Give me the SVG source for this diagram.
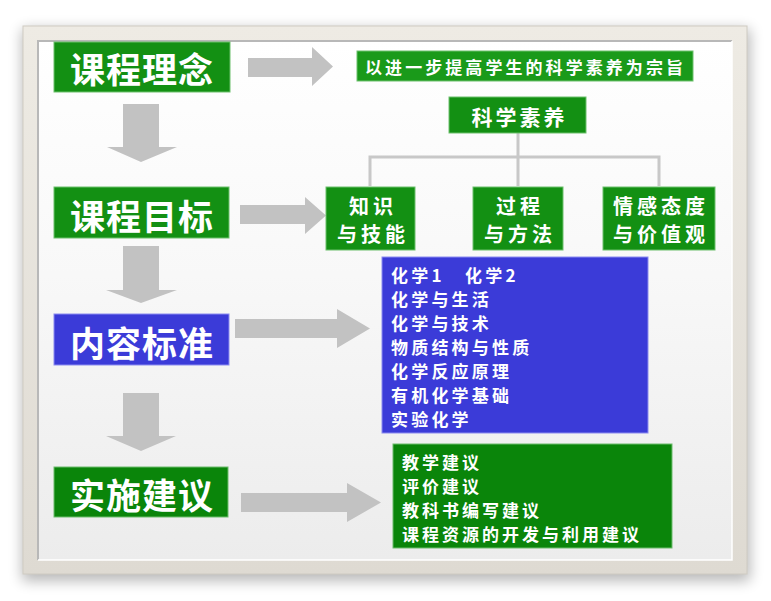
<svg xmlns="http://www.w3.org/2000/svg" width="771" height="601" viewBox="0 0 771 601">
  <defs>
    <style>
      .t { font-family: "Noto Sans CJK SC", "Noto Sans", sans-serif; fill: #ffffff; font-weight: bold; }
      .big { font-size: 35px; letter-spacing: 1px; text-anchor: middle; dominant-baseline: central; }
      .mid { font-size: 20px; letter-spacing: 4px; text-anchor: middle; dominant-baseline: central; }
      .list { font-size: 17px; letter-spacing: 3.2px; dominant-baseline: central; }
      .green { fill: #139013; stroke: #6cc06c; stroke-width: 1; }
      .dgreen { fill: #0a850a; stroke: #6cbc6c; stroke-width: 1; }
      .blue { fill: #3b3bd8; stroke: #8c8cf0; stroke-width: 1; }
      .arrow { fill: #c2c2c2; }
      .tree { fill: none; stroke: #c8c8c8; stroke-width: 3; }
    </style>
    <linearGradient id="panel" x1="0" y1="0" x2="0" y2="1">
      <stop offset="0" stop-color="#ffffff"/>
      <stop offset="0.45" stop-color="#f8f8f8"/>
      <stop offset="1" stop-color="#ececec"/>
    </linearGradient>
    <linearGradient id="frameg" x1="0" y1="0" x2="0" y2="1">
      <stop offset="0" stop-color="#eeebe4"/>
      <stop offset="1" stop-color="#dedad2"/>
    </linearGradient>
    <filter id="sh" x="-10%" y="-10%" width="120%" height="120%">
      <feGaussianBlur stdDeviation="7"/>
    </filter>
  </defs>

  <rect x="0" y="0" width="771" height="601" fill="#ffffff"/>

  <!-- frame -->
  <g id="frame">
    <rect x="22" y="29" width="728" height="552" fill="#000" opacity="0.28" filter="url(#sh)"/>
    <rect x="23" y="26" width="724" height="548" fill="url(#frameg)" stroke="#cfcbc2" stroke-width="1"/>
    <rect x="38" y="41" width="694" height="519" fill="url(#panel)"/>
    <path d="M38 560 L38 41 L732 41" fill="none" stroke="#b8b8b8" stroke-width="2"/>
    <path d="M38 560 L732 560 L732 41" fill="none" stroke="#ffffff" stroke-width="1.5"/>
  </g>

  <!-- connectors -->
  <g id="connectors">
    <polygon class="arrow" points="248,58 312,58 312,47 333,66.5 312,86 312,77 248,77"/>
    <polygon class="arrow" points="123,104 159,104 159,147 177,147 141,162 107,147 123,147"/>
    <polygon class="arrow" points="240,205 305,205 305,197 326,215.5 305,234 305,224 240,224"/>
    <polygon class="arrow" points="123,246 159,246 159,290 177,290 141,303 106,290 123,290"/>
    <polygon class="arrow" points="235,319 337,319 337,309 370,328.5 337,348 337,338 235,338"/>
    <polygon class="arrow" points="123,393 159,393 159,436 176,436 141,451 106,436 123,436"/>
    <polygon class="arrow" points="241,493 347,493 347,483 381,502.5 347,522 347,512 241,512"/>
    <path class="tree" d="M518 133 L518 157 M370 186 L370 157 L659 157 L659 186 M518 157 L518 186"/>
  </g>

  <g id="n-linian">
    <rect class="green" x="54" y="42" width="176" height="50"/>
    <text class="t big" x="142" y="67">课程理念</text>
  </g>
  <g id="n-mubiao">
    <rect class="green" x="54" y="187" width="175" height="51"/>
    <text class="t big" x="142" y="214">课程目标</text>
  </g>
  <g id="n-neirong">
    <rect class="blue" x="54" y="314" width="175" height="51"/>
    <text class="t big" x="142" y="341">内容标准</text>
  </g>
  <g id="n-shishi">
    <rect class="dgreen" x="54" y="467" width="174" height="50"/>
    <text class="t big" x="142" y="493">实施建议</text>
  </g>

  <g id="n-zongzhi">
    <rect class="green" x="357" y="51" width="336" height="30" style="fill:#1a9a1a"/>
    <text class="t" x="365" y="66.5" font-size="17" dominant-baseline="central" textLength="318" lengthAdjust="spacing">以进一步提高学生的科学素养为宗旨</text>
  </g>

  <g id="n-suyang">
    <rect class="green" x="449" y="97" width="137" height="36"/>
    <text class="t mid" x="519.5" y="116" style="font-size:21px;letter-spacing:3px">科学素养</text>
  </g>
  <g id="n-zhishi">
    <rect class="green" x="326" y="187" width="89" height="63"/>
    <text class="t mid" x="373" y="205">知识</text>
    <text class="t mid" x="373" y="233">与技能</text>
  </g>
  <g id="n-guocheng">
    <rect class="green" x="473" y="187" width="90" height="63"/>
    <text class="t mid" x="520" y="205">过程</text>
    <text class="t mid" x="520" y="233">与方法</text>
  </g>
  <g id="n-qinggan">
    <rect class="green" x="603" y="187" width="112" height="63"/>
    <text class="t mid" x="661" y="205">情感态度</text>
    <text class="t mid" x="661" y="233">与价值观</text>
  </g>

  <g id="n-content-list">
    <rect class="blue" x="382" y="257" width="266" height="176"/>
    <text class="t list" x="391" y="274">化学1</text>
    <text class="t list" x="465" y="274">化学2</text>
    <text class="t list" x="391" y="298">化学与生活</text>
    <text class="t list" x="391" y="322">化学与技术</text>
    <text class="t list" x="391" y="346">物质结构与性质</text>
    <text class="t list" x="391" y="370">化学反应原理</text>
    <text class="t list" x="391" y="394">有机化学基础</text>
    <text class="t list" x="391" y="418">实验化学</text>
  </g>

  <g id="n-advice-list">
    <rect class="dgreen" x="393" y="444" width="279" height="104"/>
    <text class="t list" x="402" y="461" style="letter-spacing:3px">教学建议</text>
    <text class="t list" x="402" y="485" style="letter-spacing:3px">评价建议</text>
    <text class="t list" x="402" y="509" style="letter-spacing:3px">教科书编写建议</text>
    <text class="t list" x="402" y="533" style="letter-spacing:3px">课程资源的开发与利用建议</text>
  </g>
</svg>
